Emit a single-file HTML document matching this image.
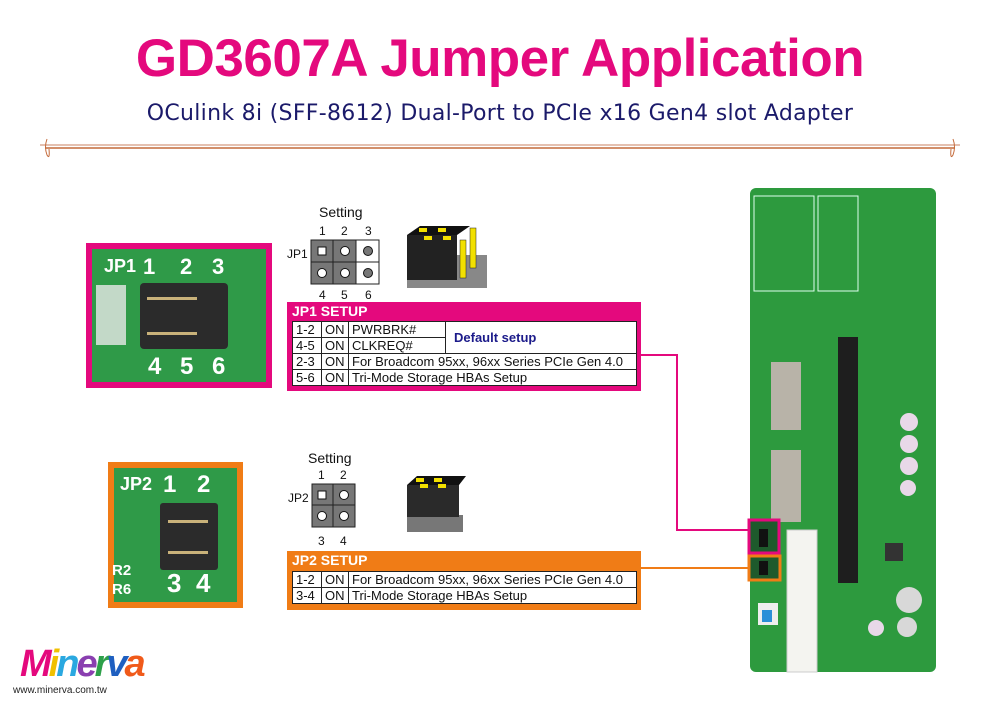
<!DOCTYPE html>
<html><head><meta charset="utf-8"><style>
body{margin:0;width:1000px;height:707px;background:#fff;position:relative;overflow:hidden;font-family:"Liberation Sans",Arial,sans-serif}
.a{position:absolute}
table{border-collapse:collapse;position:absolute;background:#fff;font-size:13px}
td{border:1.5px solid #222;padding:0 3px;height:15px;line-height:15px;white-space:nowrap;color:#111}
.hd{position:absolute;color:#fff;font-weight:bold;font-size:14px;line-height:18px;padding-left:5px}
</style></head><body>
<div class="a" style="left:0;width:1000px;top:28px;text-align:center;color:#e4097d;font-weight:bold;font-size:53px;letter-spacing:-0.5px">GD3607A Jumper Application</div>
<div class="a" style="left:0;width:1000px;top:101px;text-align:center;color:#1b1a6a;font-size:22px;font-family:'DejaVu Sans',sans-serif;letter-spacing:0.3px">OCulink 8i (SFF-8612) Dual-Port to PCIe x16 Gen4 slot Adapter</div>
<svg class="a" style="left:0;top:0" width="1000" height="707">
<line x1="40" y1="145" x2="960" y2="145" stroke="#c98060" stroke-width="1"/>
<line x1="45" y1="148" x2="955" y2="148" stroke="#c46a3a" stroke-width="1.5"/>
<path d="M47 139 q-3 8 0 16 q3 5 2 -6" fill="none" stroke="#c46a3a"/>
<path d="M953 139 q3 8 0 16 q-3 5 -2 -6" fill="none" stroke="#c46a3a"/>
<!-- connectors -->
<polyline points="641,355 677,355 677,530 752,530" fill="none" stroke="#e4097d" stroke-width="2"/>
<line x1="641" y1="568" x2="752" y2="568" stroke="#f07c16" stroke-width="2"/>
<!-- JP1 photo -->
<rect x="89" y="246" width="180" height="139" fill="#2f9a48" stroke="#e4097d" stroke-width="6"/>
<g fill="#fff" font-weight="bold" font-family="Liberation Sans"><text x="104" y="272" font-size="18">JP1</text><text x="143" y="274" font-size="22">1</text><text x="180" y="274" font-size="22">2</text><text x="212" y="274" font-size="22">3</text>
<text x="148" y="374" font-size="24">4</text><text x="180" y="374" font-size="24">5</text><text x="212" y="374" font-size="24">6</text></g>
<rect x="140" y="283" width="88" height="66" fill="#2b2b2b" rx="4"/>
<rect x="147" y="297" width="50" height="3" fill="#c9b27a"/><rect x="147" y="332" width="50" height="3" fill="#c9b27a"/>
<rect x="96" y="285" width="30" height="60" fill="#e8e8e8" opacity=".8"/>
<!-- JP2 photo -->
<rect x="111" y="465" width="129" height="140" fill="#2f9a48" stroke="#f07c16" stroke-width="6"/>
<g fill="#fff" font-weight="bold"><text x="120" y="490" font-size="18">JP2</text><text x="163" y="492" font-size="24">1</text><text x="197" y="492" font-size="24">2</text>
<text x="167" y="592" font-size="26">3</text><text x="196" y="592" font-size="26">4</text><text x="112" y="575" font-size="15">R2</text><text x="112" y="594" font-size="15">R6</text></g>
<rect x="160" y="503" width="58" height="67" fill="#2b2b2b" rx="3"/>
<rect x="168" y="520" width="40" height="3" fill="#c9b27a"/><rect x="168" y="551" width="40" height="3" fill="#c9b27a"/>
<!-- JP1 grid -->
<g font-size="12" fill="#111"><text x="287" y="258">JP1</text><text x="319" y="235">1</text><text x="341" y="235">2</text><text x="365" y="235">3</text><text x="319" y="299">4</text><text x="341" y="299">5</text><text x="365" y="299">6</text>
<text x="319" y="217" font-size="14">Setting</text></g>
<rect x="311" y="240" width="45" height="44" fill="#777" stroke="#222"/><rect x="356" y="240" width="23" height="44" fill="#fff" stroke="#222"/>
<line x1="311" y1="262" x2="379" y2="262" stroke="#222"/><line x1="333" y1="240" x2="333" y2="284" stroke="#222"/>
<rect x="318" y="247" width="8" height="8" fill="#fff" stroke="#111"/>
<circle cx="345" cy="251" r="4.5" fill="#fff" stroke="#111"/><circle cx="368" cy="251" r="4.5" fill="#777" stroke="#111"/>
<circle cx="322" cy="273" r="4.5" fill="#fff" stroke="#111"/><circle cx="345" cy="273" r="4.5" fill="#fff" stroke="#111"/><circle cx="368" cy="273" r="4.5" fill="#777" stroke="#111"/>
<!-- JP1 3d -->
<rect x="407" y="255" width="80" height="33" fill="#888"/><rect x="407" y="235" width="50" height="45" fill="#222"/>
<polygon points="407,235 420,226 470,226 457,235" fill="#111"/>
<rect x="419" y="228" width="8" height="4" fill="#f2e000"/><rect x="438" y="228" width="8" height="4" fill="#f2e000"/><rect x="424" y="236" width="8" height="4" fill="#f2e000"/><rect x="443" y="236" width="8" height="4" fill="#f2e000"/>
<rect x="460" y="240" width="6" height="38" fill="#f2e000" stroke="#222" stroke-width=".5"/><rect x="470" y="228" width="6" height="40" fill="#f2e000" stroke="#222" stroke-width=".5"/>
<!-- JP2 grid -->
<g font-size="12" fill="#111"><text x="288" y="502">JP2</text><text x="318" y="479">1</text><text x="340" y="479">2</text><text x="318" y="545">3</text><text x="340" y="545">4</text>
<text x="308" y="463" font-size="14">Setting</text></g>
<rect x="312" y="484" width="43" height="43" fill="#777" stroke="#222"/><line x1="312" y1="505" x2="355" y2="505" stroke="#222"/><line x1="333" y1="484" x2="333" y2="527" stroke="#222"/>
<rect x="318" y="491" width="8" height="8" fill="#fff" stroke="#111"/><circle cx="344" cy="495" r="4.5" fill="#fff" stroke="#111"/>
<circle cx="322" cy="516" r="4.5" fill="#fff" stroke="#111"/><circle cx="344" cy="516" r="4.5" fill="#fff" stroke="#111"/>
<rect x="407" y="515" width="56" height="17" fill="#777"/><rect x="407" y="485" width="52" height="32" fill="#2a2a2a"/><polygon points="407,485 417,476 466,476 459,485" fill="#111"/>
<rect x="416" y="478" width="8" height="4" fill="#f2e000"/><rect x="434" y="478" width="8" height="4" fill="#f2e000"/><rect x="420" y="484" width="8" height="4" fill="#f2e000"/><rect x="438" y="484" width="8" height="4" fill="#f2e000"/>
<!-- board -->
<rect x="750" y="188" width="186" height="484" rx="6" fill="#2d9a3e"/>
<rect x="838" y="337" width="20" height="246" fill="#1e1e1e"/>
<rect x="771" y="362" width="30" height="68" fill="#b8b3a8"/><rect x="771" y="450" width="30" height="72" fill="#b8b3a8"/>
<rect x="787" y="530" width="30" height="142" fill="#f4f4f0" stroke="#ccc"/>
<circle cx="909" cy="422" r="9" fill="#e8d8e8"/><circle cx="909" cy="444" r="9" fill="#e8d8e8"/><circle cx="909" cy="466" r="9" fill="#e8d8e8"/><circle cx="908" cy="488" r="8" fill="#e8d8e8"/>
<circle cx="909" cy="600" r="13" fill="#d8d8d8"/><circle cx="907" cy="627" r="10" fill="#d8d8d8"/><circle cx="876" cy="628" r="8" fill="#e8d8e8"/>
<rect x="885" y="543" width="18" height="18" fill="#333"/>
<rect x="758" y="603" width="20" height="22" fill="#eee"/><rect x="762" y="610" width="10" height="12" fill="#2b8fd8"/>
<rect x="754" y="196" width="60" height="95" fill="none" stroke="#dfe" stroke-width="1"/><rect x="818" y="196" width="40" height="95" fill="none" stroke="#dfe" stroke-width="1"/>
<rect x="749" y="520" width="30" height="33" fill="#1e5a2c" stroke="#e4097d" stroke-width="3"/>
<rect x="749" y="556" width="31" height="24" fill="#1e5a2c" stroke="#f07c16" stroke-width="3"/>
<rect x="759" y="529" width="9" height="18" fill="#111"/><rect x="759" y="561" width="9" height="14" fill="#111"/>
<!-- logo -->
<text x="20" y="676" font-size="38" font-weight="bold" font-style="italic" fill="#e4097d" letter-spacing="-3">M<tspan fill="#f0c000">i</tspan><tspan fill="#2aa8e0">n</tspan><tspan fill="#8a3fb0">e</tspan><tspan fill="#2ea04a">r</tspan><tspan fill="#1e5fc0">v</tspan><tspan fill="#f05a1a">a</tspan></text>
<text x="13" y="693" font-size="10" fill="#222">www.minerva.com.tw</text>
</svg>
<!-- JP1 setup -->
<div class="a" style="left:287px;top:302px;width:354px;height:89px;background:#e4097d"></div>
<div class="hd" style="left:287px;top:302px">JP1 SETUP</div>
<table style="left:292px;top:321px;width:345px">
<tr><td style="width:22px">1-2</td><td style="width:20px">ON</td><td style="width:90px">PWRBRK#</td><td rowspan="2" style="color:#1b1a8a;font-weight:bold;padding-left:8px">Default setup</td></tr>
<tr><td>4-5</td><td>ON</td><td>CLKREQ#</td></tr>
<tr><td>2-3</td><td>ON</td><td colspan="2">For Broadcom 95xx, 96xx Series PCIe Gen 4.0</td></tr>
<tr><td>5-6</td><td>ON</td><td colspan="2">Tri-Mode Storage HBAs Setup</td></tr>
</table>
<!-- JP2 setup -->
<div class="a" style="left:287px;top:551px;width:354px;height:59px;background:#f07c16"></div>
<div class="hd" style="left:287px;top:551px">JP2 SETUP</div>
<table style="left:292px;top:571px;width:345px">
<tr><td style="width:22px">1-2</td><td style="width:20px">ON</td><td>For Broadcom 95xx, 96xx Series PCIe Gen 4.0</td></tr>
<tr><td>3-4</td><td>ON</td><td>Tri-Mode Storage HBAs Setup</td></tr>
</table>
</body></html>
